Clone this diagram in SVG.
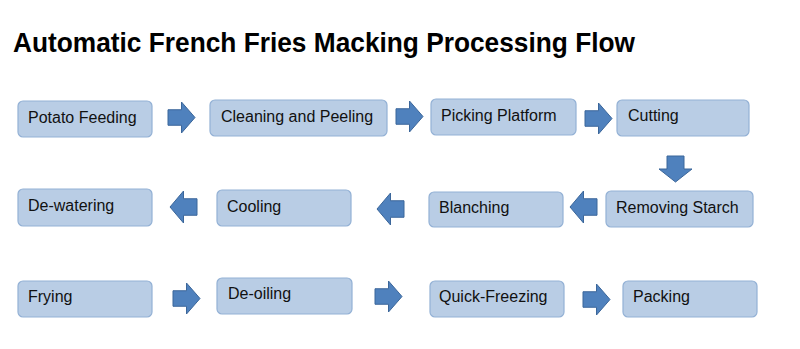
<svg xmlns="http://www.w3.org/2000/svg" width="800" height="349" viewBox="0 0 800 349">
<defs>
<style>
.box{fill:#b9cde5;stroke:#93b1d5;stroke-width:1.2}
.lbl{font-family:"Liberation Sans",Arial,sans-serif;font-size:16px;fill:#111}
.arr{fill:#4f81bd;stroke:#3b669a;stroke-width:1}
.title{font-family:"Liberation Sans",Arial,sans-serif;font-size:28px;font-weight:bold;fill:#000}
</style>
<polygon id="ra" points="0,7.75 13.5,7.75 13.5,0 27,15.5 13.5,31 13.5,23.25 0,23.25"/>
<polygon id="la" points="27,7.75 13.5,7.75 13.5,0 0,16 13.5,32 13.5,24.25 27,24.25"/>
</defs>
<rect width="800" height="349" fill="#fff"/>
<text class="title" x="13" y="52" textLength="622" lengthAdjust="spacingAndGlyphs">Automatic French Fries Macking Processing Flow</text>

<g id="n1"><rect class="box" x="18" y="101" width="134" height="36" rx="5"/><text class="lbl" x="28" y="123">Potato Feeding</text></g>
<g id="n2"><rect class="box" x="210" y="100" width="177" height="36" rx="5"/><text class="lbl" x="221" y="122">Cleaning and Peeling</text></g>
<g id="n3"><rect class="box" x="431" y="99" width="145" height="36" rx="5"/><text class="lbl" x="441" y="121">Picking Platform</text></g>
<g id="n4"><rect class="box" x="617" y="100" width="132" height="36" rx="5"/><text class="lbl" x="628" y="121">Cutting</text></g>

<g id="n5"><rect class="box" x="606" y="191" width="147" height="36" rx="5"/><text class="lbl" x="616" y="213">Removing Starch</text></g>
<g id="n6"><rect class="box" x="429" y="192" width="134" height="35" rx="5"/><text class="lbl" x="439" y="213">Blanching</text></g>
<g id="n7"><rect class="box" x="217" y="190" width="134" height="36" rx="5"/><text class="lbl" x="227" y="212">Cooling</text></g>
<g id="n8"><rect class="box" x="18" y="189" width="134" height="37" rx="5"/><text class="lbl" x="28" y="211">De-watering</text></g>

<g id="n9"><rect class="box" x="18" y="281" width="134" height="36" rx="5"/><text class="lbl" x="28" y="302">Frying</text></g>
<g id="n10"><rect class="box" x="217" y="278" width="135" height="36" rx="5"/><text class="lbl" x="228" y="299">De-oiling</text></g>
<g id="n11"><rect class="box" x="430" y="281" width="134" height="36" rx="5"/><text class="lbl" x="439" y="302">Quick-Freezing</text></g>
<g id="n12"><rect class="box" x="623" y="281" width="134" height="36" rx="5"/><text class="lbl" x="633" y="302">Packing</text></g>

<g id="connectors">
<use href="#ra" class="arr" x="168" y="102"/>
<use href="#ra" class="arr" x="396" y="101"/>
<use href="#ra" class="arr" x="585" y="103"/>
<polygon class="arr" points="667,156 684,156 684,169 692,169 675.5,182 659,169 667,169"/>
<use href="#la" class="arr" x="570" y="191"/>
<use href="#la" class="arr" x="377" y="193"/>
<use href="#la" class="arr" x="170" y="191"/>
<use href="#ra" class="arr" x="173" y="283"/>
<use href="#ra" class="arr" x="375" y="281"/>
<use href="#ra" class="arr" x="583" y="284"/>
</g>
</svg>
